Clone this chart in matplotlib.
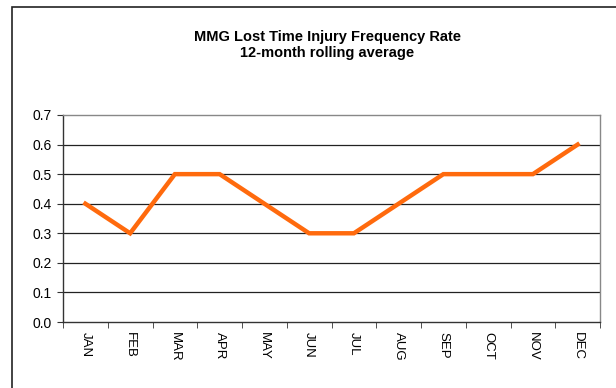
import matplotlib
matplotlib.use("Agg")
import matplotlib.pyplot as plt
from matplotlib.patches import Rectangle

plt.rcParams['font.family'] = ['Liberation Sans', 'DejaVu Sans']

months = ["JAN", "FEB", "MAR", "APR", "MAY", "JUN", "JUL", "AUG", "SEP", "OCT", "NOV", "DEC"]
ltifr = [0.4, 0.3, 0.5, 0.5, 0.4, 0.3, 0.3, 0.4, 0.5, 0.5, 0.5, 0.6]
yticks = [0.0, 0.1, 0.2, 0.3, 0.4, 0.5, 0.6, 0.7]

fig = plt.figure(figsize=(6.16, 3.88), dpi=100)

# outer chart border (only left and top edges fall inside the image)
fig.patches.append(Rectangle((12 / 616, -0.2), 1.2, 0.2 + 1 - 7 / 388,
                             transform=fig.transFigure, fill=False,
                             edgecolor="#222222", linewidth=1.2))

ax = fig.add_axes([63 / 616, 1 - 322 / 388, (600 - 63) / 616, (322 - 115) / 388])

x = list(range(len(months)))
ax.plot(x, ltifr, color="#ff6a0d", linewidth=3.2, solid_joinstyle="miter", zorder=3)

ax.set_xlim(-0.5, len(months) - 0.5)
ax.set_ylim(0, 0.7)
ax.set_yticks(yticks)
ax.set_yticklabels(["%.1f" % v for v in yticks], fontsize=10)
for v in yticks[1:-1]:
    ax.axhline(v, color="#222222", linewidth=0.9, zorder=1)

ax.set_xticks(x)
ax.set_xticklabels(months, rotation=270, fontsize=9.5)
ax.set_xticks([i - 0.5 for i in range(len(months) + 1)], minor=True)
ax.tick_params(axis="x", which="major", length=0, pad=7)
ax.tick_params(axis="x", which="minor", length=4, direction="out", color="#333333")
ax.tick_params(axis="y", length=4, direction="out", color="#333333", pad=4)

ax.spines["left"].set_color("#333333")
ax.spines["bottom"].set_color("#333333")
ax.spines["top"].set_color("#888888")
ax.spines["right"].set_color("#888888")
for s in ax.spines.values():
    s.set_linewidth(1.0)

fig.text(327 / 616, 1 - 41 / 388, "MMG Lost Time Injury Frequency Rate",
         ha="center", va="baseline", fontsize=10.5, fontweight="bold")
fig.text(327 / 616, 1 - 57 / 388, "12-month rolling average",
         ha="center", va="baseline", fontsize=10.5, fontweight="bold")

fig.savefig("out.png", dpi=100)
